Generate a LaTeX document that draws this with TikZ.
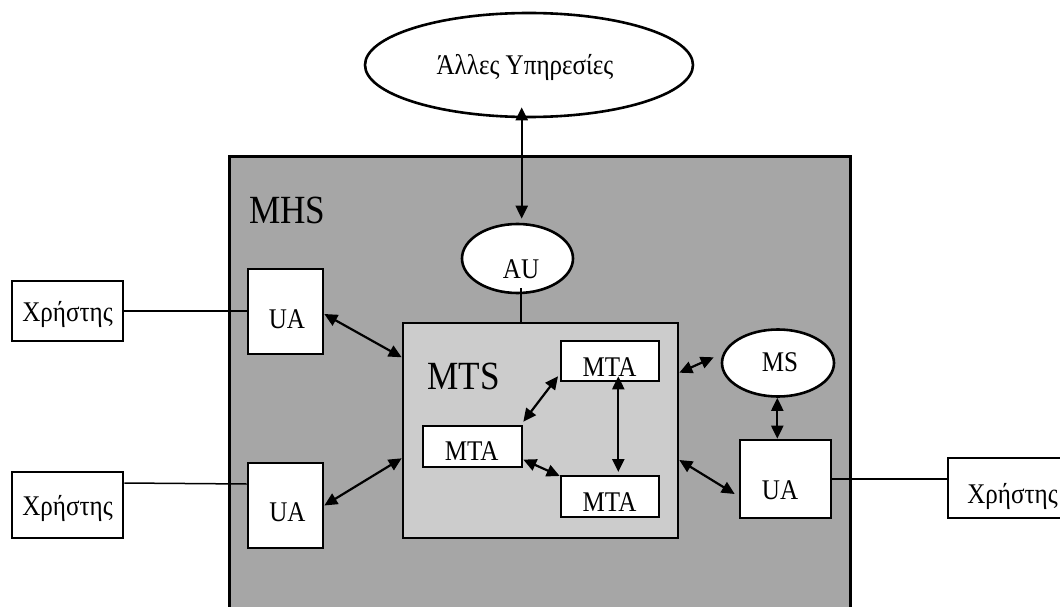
\documentclass[tikz,border=0pt]{standalone}
\usepackage{fontspec}
\setmainfont{Liberation Serif}[FakeStretch=0.88]
\usetikzlibrary{arrows.meta,shapes.geometric}
\definecolor{mhsgray}{HTML}{A6A6A6}
\definecolor{mtsgray}{HTML}{CCCCCC}
\tikzset{
  box/.style={draw, line width=2.6pt, fill=white, rectangle, inner sep=0pt},
  oval/.style={draw, line width=2.6pt, fill=white, ellipse, inner sep=0pt},
  lbl/.style={anchor=base, inner sep=0pt, font=\fontsize{28.5}{30}\selectfont},
  biglbl/.style={anchor=base west, inner sep=0pt, font=\fontsize{40}{42}\selectfont},
  link/.style={line width=2.2pt, {Triangle[length=13pt,width=12pt]}-{Triangle[length=13pt,width=12pt]}},
  wire/.style={line width=1.5pt},
  thinwire/.style={line width=1.2pt},
}
\begin{document}
\begin{tikzpicture}[x=1pt,y=-1pt]
\useasboundingbox (0,0) rectangle (1060,607);
\clip (0,0) rectangle (1060,607);

% message handling system
\node[draw, line width=2.6pt, fill=mhsgray, inner sep=0pt, minimum width=621, minimum height=500, anchor=north west] (mhs) at (228,155) {};
\node[biglbl] (mhslabel) at (249,223) {MHS};

% message transfer system
\node[draw, line width=2.6pt, fill=mtsgray, inner sep=0pt, minimum width=275, minimum height=215] (mts) at (540.5,430.5) {};
\node[biglbl] (mtslabel) at (427,389) {MTS};

% other services
\node[oval, minimum width=328, minimum height=104] (other) at (529,65) {};
\node[lbl] (othertext) at (525,75) {Άλλες Υπηρεσίες};

% access unit
\node[oval, minimum width=111, minimum height=69] (au) at (517.5,258.5) {};
\node[lbl] (autext) at (521,278) {AU};

% message store
\node[oval, minimum width=112, minimum height=67] (ms) at (778,363) {};
\node[lbl] (mstext) at (780,371) {MS};

% transfer agents
\node[box, minimum width=98, minimum height=40] (mta1) at (610,361) {};
\node[lbl] (mta1text) at (609.5,376) {MTA};
\node[box, minimum width=99, minimum height=41] (mta2) at (472.5,446.5) {};
\node[lbl] (mta2text) at (471.7,460.7) {MTA};
\node[box, minimum width=98, minimum height=41] (mta3) at (610,496.5) {};
\node[lbl] (mta3text) at (609.5,511.7) {MTA};

% user agents
\node[box, minimum width=75, minimum height=85] (ua1) at (285.5,311.5) {};
\node[lbl] (ua1text) at (287,328) {UA};
\node[box, minimum width=75, minimum height=85] (ua2) at (285.5,505.5) {};
\node[lbl] (ua2text) at (287.5,521) {UA};
\node[box, minimum width=91, minimum height=78] (ua3) at (785.5,479) {};
\node[lbl] (ua3text) at (780,499) {UA};

% users
\node[box, minimum width=111, minimum height=60] (user1) at (67.5,311) {};
\node[lbl] (user1text) at (67.5,321) {Χρήστης};
\node[box, minimum width=111, minimum height=66] (user2) at (67.5,505) {};
\node[lbl] (user2text) at (67.5,515) {Χρήστης};
\node[box, minimum width=128, minimum height=60] (user3) at (1012,488) {};
\node[lbl] (user3text) at (1012.5,503) {Χρήστης};

% plain connections
\draw[wire] (user1.east) -- (user1.east -| ua1.west);
\draw[wire] ([yshift=22pt]user2.east) -- ([yshift=21.5pt]ua2.west);
\draw[wire] (ua3.east) -- (ua3.east -| user3.west);
\draw[thinwire] ([xshift=3.5pt,yshift=6pt]au.south) -- ([xshift=-19.5pt]mts.north);

% two-way links
\draw[link] ([xshift=-7.3pt,yshift=11pt]other.south) -- ([xshift=4.2pt,yshift=4pt]au.north);
\draw[link] ([yshift=-2.5pt]ua1.east) -- ([yshift=73.2pt]mts.west);
\draw[link] (ua2.east) -- ([yshift=-27.8pt]mts.west);
\draw[link] ([xshift=-1.7pt,yshift=6pt]mta1.south west) -- ([yshift=3pt]mta2.north east);
\draw[link] ([yshift=8.7pt]mta2.south east) -- ([yshift=-1.3pt]mta3.north west);
\draw[link] ([xshift=8.3pt,yshift=6pt]mta1.south) -- ([xshift=8.3pt,yshift=2.7pt]mta3.north);
\draw[link] ([yshift=57.8pt]mts.east) -- ([xshift=-7pt,yshift=5.7pt]ms.west);
\draw[link] ([xshift=-0.7pt]ms.south) -- ([xshift=-8.2pt]ua3.north);
\draw[link] ([yshift=-29.5pt]mts.east) -- ([xshift=-4pt,yshift=-15pt]ua3.west);
\end{tikzpicture}
\end{document}
